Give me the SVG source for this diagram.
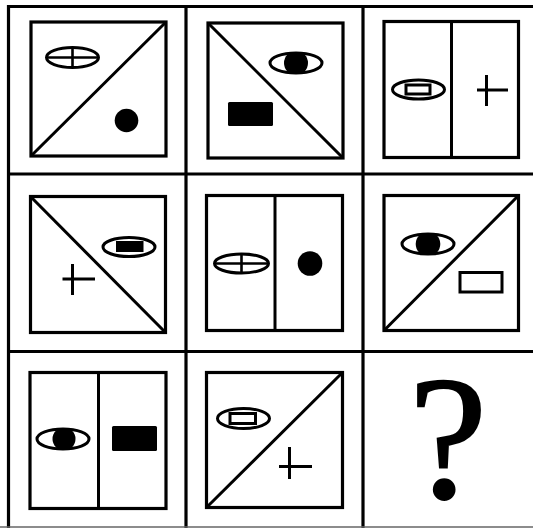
<svg xmlns="http://www.w3.org/2000/svg" width="533" height="528" viewBox="0 0 533 528">
<style>
.grid{stroke:#000;stroke-width:3.2;fill:none}
.sq{stroke:#000;stroke-width:3.2;fill:none}
.ln{stroke:#000;stroke-width:3;fill:none}
.ol{stroke:#000;stroke-width:3;fill:none}
.thin{stroke:#000;stroke-width:2.6;fill:none}
.blk{fill:#000}
</style>
<defs>
<clipPath id="eye2"><ellipse cx="296" cy="63" rx="26" ry="10"/></clipPath>
<clipPath id="eye6"><ellipse cx="428" cy="244" rx="26" ry="10"/></clipPath>
<clipPath id="eye7"><ellipse cx="63" cy="439" rx="26" ry="10"/></clipPath>
</defs>
<rect width="533" height="528" fill="#fff"/>
<g id="grid">
<line class="grid" x1="8.5" y1="6.5" x2="533" y2="6.5"/>
<line class="grid" x1="8.5" y1="5" x2="8.5" y2="528"/>
<line class="grid" x1="186" y1="5" x2="186" y2="528"/>
<line class="grid" x1="363" y1="5" x2="363" y2="528"/>
<line class="grid" x1="7" y1="174" x2="533" y2="174"/>
<line class="grid" x1="7" y1="351.5" x2="533" y2="351.5"/>
<line x1="0" y1="527" x2="533" y2="527" stroke="#666" stroke-width="1.5"/>
</g>
<g id="cell1">
<rect class="sq" x="31" y="22" width="135" height="134"/>
<line class="ln" x1="31" y1="156" x2="166" y2="22"/>
<ellipse class="ol" cx="72.5" cy="57.5" rx="26" ry="10"/>
<line class="thin" x1="46.5" y1="57.5" x2="98.5" y2="57.5"/>
<line class="thin" x1="72.5" y1="47.5" x2="72.5" y2="67.5"/>
<circle class="blk" cx="126.5" cy="120.5" r="11.8"/>
</g>
<g id="cell2">
<rect class="sq" x="208" y="23" width="135" height="135"/>
<line class="ln" x1="208" y1="23" x2="343" y2="158"/>
<ellipse class="ol" cx="296" cy="63" rx="26" ry="10"/>
<circle class="blk" cx="296" cy="63" r="12" clip-path="url(#eye2)"/>
<rect class="blk" x="228" y="102" width="45" height="24" rx="1.5"/>
</g>
<g id="cell3">
<rect class="sq" x="384" y="21.5" width="134.5" height="136"/>
<line class="ln" x1="451.5" y1="21.5" x2="451.5" y2="157.5"/>
<ellipse class="ol" cx="418.5" cy="89.5" rx="26" ry="9.5"/>
<rect class="ol" x="406" y="85" width="24" height="9"/>
<line class="ln" x1="477" y1="90" x2="508" y2="90"/>
<line class="ln" x1="486.5" y1="75" x2="486.5" y2="106"/>
</g>
<g id="cell4">
<rect class="sq" x="30.5" y="196.5" width="135" height="136"/>
<line class="ln" x1="30.5" y1="196.5" x2="165.5" y2="332.5"/>
<ellipse class="ol" cx="129" cy="247" rx="26" ry="9.5"/>
<rect class="blk" x="116" y="241" width="27.5" height="11"/>
<line class="ln" x1="62.5" y1="279" x2="95" y2="279"/>
<line class="ln" x1="72.5" y1="264" x2="72.5" y2="295"/>
</g>
<g id="cell5">
<rect class="sq" x="206.5" y="195.5" width="136" height="135"/>
<line class="ln" x1="275" y1="195.5" x2="275" y2="330.5"/>
<ellipse class="ol" cx="241.5" cy="263.5" rx="27" ry="9.5"/>
<line class="thin" x1="214.5" y1="263.5" x2="268.5" y2="263.5"/>
<line class="thin" x1="241.5" y1="254" x2="241.5" y2="273"/>
<circle class="blk" cx="310" cy="263.5" r="12.3"/>
</g>
<g id="cell6">
<rect class="sq" x="384" y="195.5" width="134.5" height="135"/>
<line class="ln" x1="384" y1="330.5" x2="518.5" y2="195.5"/>
<ellipse class="ol" cx="428" cy="244" rx="26" ry="10"/>
<circle class="blk" cx="428" cy="244" r="12.3" clip-path="url(#eye6)"/>
<rect class="ln" x="460" y="272.5" width="42" height="19.5"/>
</g>
<g id="cell7">
<rect class="sq" x="30" y="372.5" width="136" height="136"/>
<line class="ln" x1="98.5" y1="372.5" x2="98.5" y2="508.5"/>
<ellipse class="ol" cx="63" cy="439" rx="26" ry="10"/>
<circle class="blk" cx="64" cy="439" r="11.5" clip-path="url(#eye7)"/>
<rect class="blk" x="112" y="426" width="45" height="25" rx="1.5"/>
</g>
<g id="cell8">
<rect class="sq" x="206.5" y="372.5" width="136" height="135"/>
<line class="ln" x1="206.5" y1="507.5" x2="342.5" y2="372.5"/>
<ellipse class="ol" cx="243.5" cy="418.5" rx="26" ry="10"/>
<rect class="ol" x="230" y="413.5" width="25.5" height="10"/>
<line class="ln" x1="279" y1="466.5" x2="312" y2="466.5"/>
<line class="ln" x1="289.5" y1="447" x2="289.5" y2="479"/>
</g>
<g id="cell9">
<text x="448" y="498" font-family="Liberation Serif, serif" font-size="176" text-anchor="middle" fill="#000" stroke="#000" stroke-width="2">?</text>
</g>
</svg>
